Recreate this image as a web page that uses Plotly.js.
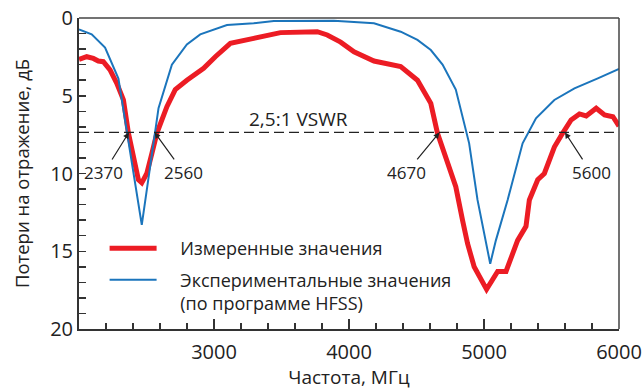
<!DOCTYPE html>
<html>
<head>
<meta charset="utf-8">
<script src="https://cdn.plot.ly/plotly-3.0.1.min.js"></script>
<style>html,body{margin:0;padding:0;background:#fff;}#chart{width:643px;height:390px;}</style>
</head>
<body>
<div id="chart"></div>
<script>
// Measured return loss (red)
const measFreq = [2000, 2057, 2106, 2143, 2180, 2230, 2280, 2329, 2366, 2403, 2440, 2465, 2502, 2540, 2577, 2651, 2713, 2799, 2923, 3010, 3121, 3294, 3492, 3765, 3839, 3938, 4037, 4185, 4383, 4507, 4606, 4655, 4729, 4791, 4841, 4878, 4927, 5019, 5101, 5163, 5249, 5311, 5336, 5398, 5447, 5521, 5583, 5645, 5707, 5757, 5831, 5893, 5955, 6000];
const measDb   = [2.66, 2.49, 2.6, 2.77, 2.81, 3.34, 4.2, 5.27, 7.4, 9.1, 10.4, 10.6, 10.0, 8.7, 7.4, 5.7, 4.6, 4.0, 3.24, 2.49, 1.63, 1.31, 0.94, 0.88, 1.09, 1.55, 2.17, 2.77, 3.13, 4.0, 5.49, 7.4, 9.34, 10.85, 13.0, 14.5, 16.0, 17.45, 16.3, 16.3, 14.3, 13.4, 11.7, 10.4, 10.0, 8.3, 7.4, 6.56, 6.17, 6.3, 5.8, 6.24, 6.35, 6.95];
// HFSS simulated return loss (blue)
const simFreq = [2000, 2094, 2193, 2292, 2465, 2589, 2688, 2799, 2898, 2997, 3096, 3294, 3443, 3888, 4086, 4185, 4383, 4507, 4606, 4693, 4791, 4841, 4890, 4952, 5046, 5088, 5175, 5286, 5385, 5521, 5670, 5843, 6000];
const simDb   = [0.73, 1.05, 1.9, 3.9, 13.3, 5.8, 3.0, 1.7, 1.05, 0.77, 0.45, 0.34, 0.19, 0.17, 0.3, 0.34, 0.88, 1.41, 2.06, 3.0, 4.6, 6.35, 8.06, 11.7, 15.8, 14.3, 11.7, 8.06, 6.45, 5.27, 4.52, 3.88, 3.28];
// VSWR 2.5:1 level and marked crossing frequencies
const vswrDb = 7.36;
const vswrLabel = "2,5:1 VSWR";
const crossFreq = [2370, 2560, 4670, 5600];
const crossLabels = ["2370", "2560", "4670", "5600"];
const crossAx = [-25, 29, -33, 26];
const xTickVals = [3000, 4000, 5000, 6000];
const yTickVals = [0, 5, 10, 15, 20];
const seriesNames = ["Измеренные значения", "Экспериментальные значения<br>(по программе HFSS)"];
const xTitle = "Частота, МГц";
const yTitle = "Потери на отражение, дБ";

const FONT = "'Open Sans', sans-serif";
const NB = "\u00a0";
const PAD = NB.repeat(4);

const traces = [
  {x: measFreq, y: measDb, type: 'scatter', mode: 'lines', name: PAD + seriesNames[0], legendgroup: 'a',
   line: {color: '#ec1c24', width: 5, shape: 'linear'}},
  {x: simFreq, y: simDb, type: 'scatter', mode: 'lines', name: PAD + seriesNames[1].replace('<br>', '<br>' + PAD), legendgroup: 'b',
   line: {color: '#1b75bc', width: 2}}
];

const annotations = crossFreq.map((f, i) => ({
  x: f, y: vswrDb, xref: 'x', yref: 'y', text: crossLabels[i],
  showarrow: true, arrowhead: 2, arrowsize: 1, arrowwidth: 1.2, arrowcolor: '#222',
  ax: crossAx[i], ay: 40, standoff: 0, startstandoff: 0,
  font: {family: FONT, size: 17, color: '#222'}
}));
annotations.push({x: 3626, y: 6.5, xref: 'x', yref: 'y', text: vswrLabel, showarrow: false,
  font: {family: FONT, size: 19, color: '#222'}});

const layout = {
  width: 643, height: 390,
  margin: {l: 79, r: 24, t: 18, b: 61},
  paper_bgcolor: '#fff', plot_bgcolor: '#fff',
  font: {family: FONT, color: '#222'},
  showlegend: true,
  legend: {x: 0.0474, y: 0.318, xanchor: 'left', yanchor: 'top', bgcolor: 'rgba(0,0,0,0)',
    font: {family: FONT, size: 18, color: '#222'}, itemwidth: 47, valign: 'top', tracegroupgap: 5},
  xaxis: {range: [2000, 6000], tickmode: 'array', tickvals: xTickVals, ticks: 'inside', ticklen: 10,
    tickwidth: 1.5, tickcolor: '#333', showline: true, linecolor: '#333', linewidth: 2, mirror: false,
    showgrid: false, zeroline: false, tickfont: {family: FONT, size: 20, color: '#222'},
    ticklabelstandoff: 4,
    minor: {tickmode: 'linear', tick0: 2000, dtick: 200, ticks: 'inside', ticklen: 6, tickwidth: 1.5, tickcolor: '#333', showgrid: false},
    title: {text: xTitle + NB + NB, font: {family: FONT, size: 19, color: '#222'}, standoff: 13}},
  yaxis: {range: [20, 0], tickmode: 'array', tickvals: yTickVals, ticks: 'inside', ticklen: 7,
    tickwidth: 1.5, tickcolor: '#333', showline: true, linecolor: '#333', linewidth: 2, mirror: false,
    showgrid: false, zeroline: false, tickfont: {family: FONT, size: 20, color: '#222'},
    ticklabelstandoff: 0,
    minor: {tickmode: 'linear', tick0: 0, dtick: 1, ticks: 'inside', ticklen: 7, tickwidth: 1.5, tickcolor: '#333', showgrid: false},
    title: {text: NB.repeat(9) + yTitle, font: {family: FONT, size: 18.5, color: '#222'}, standoff: 16}},
  shapes: [
    {type: 'line', xref: 'x', yref: 'y', x0: 2000, x1: 6000, y0: vswrDb, y1: vswrDb,
     line: {color: '#222', width: 1.3, dash: '10px,5px'}},
    {type: 'line', xref: 'paper', yref: 'paper', x0: 0, x1: 1, y0: 1, y1: 1, line: {color: '#444', width: 1.5}},
    {type: 'line', xref: 'paper', yref: 'paper', x0: 1, x1: 1, y0: 0, y1: 1, line: {color: '#444', width: 1.5}}
  ],
  annotations: annotations
};

Plotly.newPlot('chart', traces, layout, {displayModeBar: false, staticPlot: true});
</script>
</body>
</html>
